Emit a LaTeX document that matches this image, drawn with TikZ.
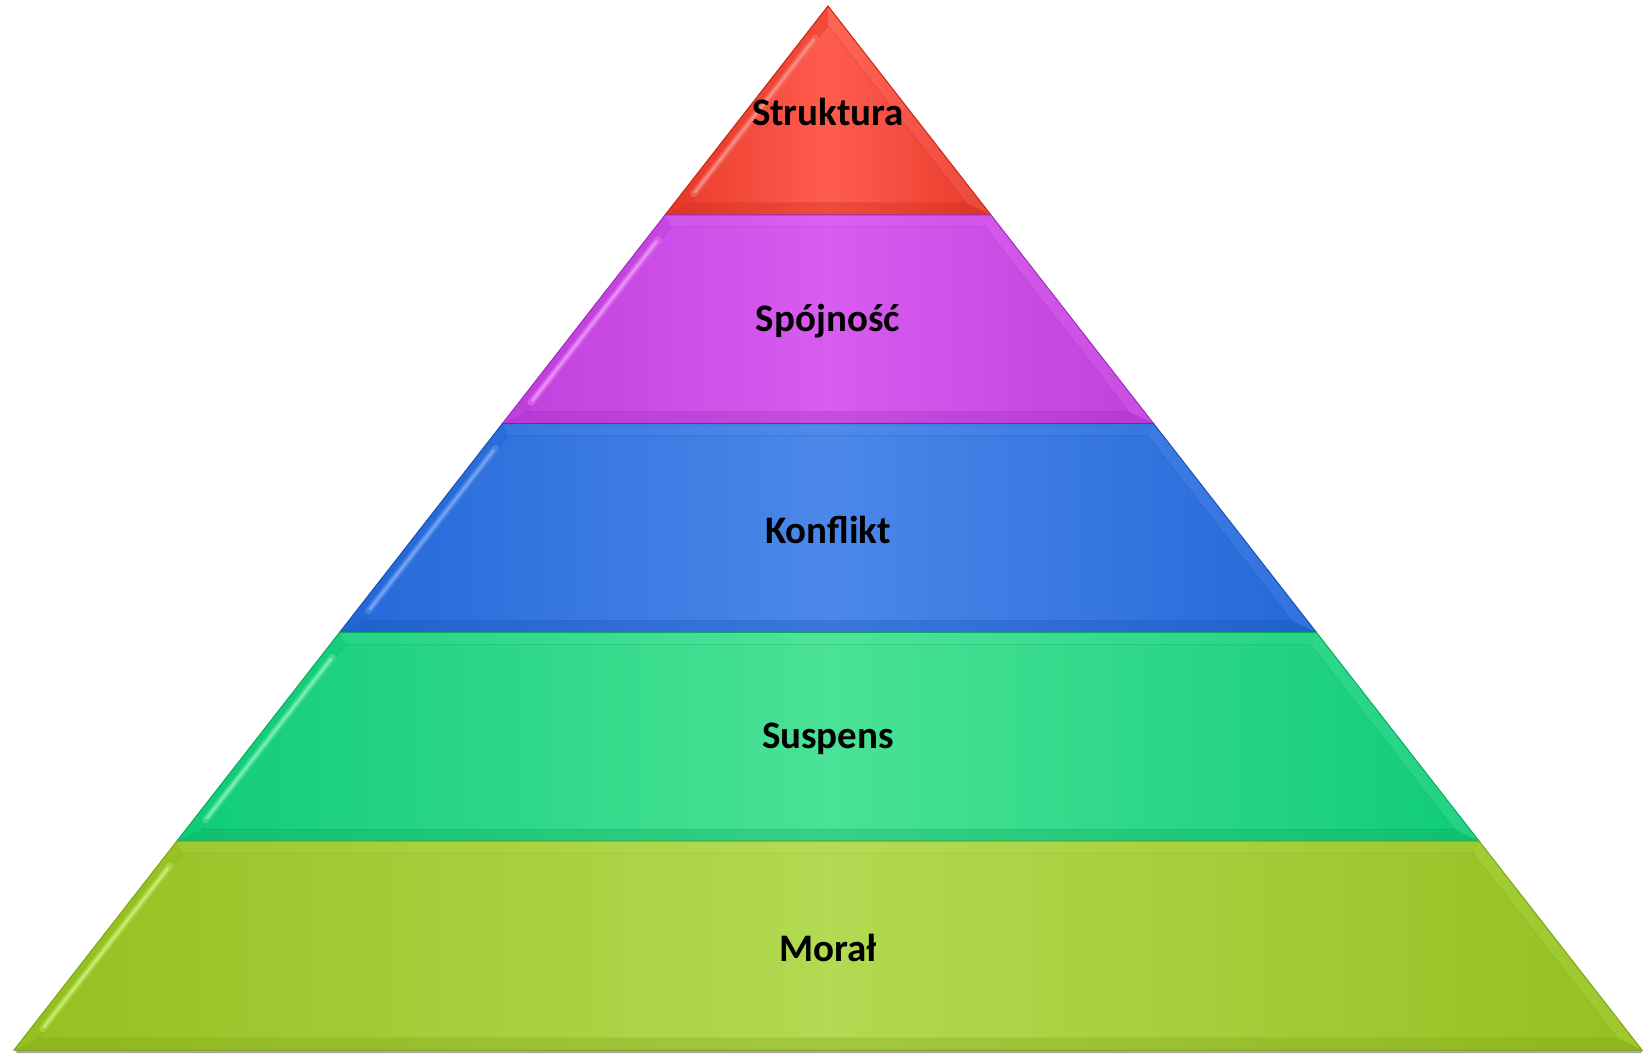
\documentclass[tikz,border=0pt]{standalone}
\usepackage{fontspec}
\setmainfont{Carlito}
\usetikzlibrary{calc}
\definecolor{redE}{HTML}{E83A2C}\definecolor{redM}{HTML}{FF5C4E}\definecolor{redD}{HTML}{C42814}\definecolor{redH}{HTML}{FF9A90}
\definecolor{purE}{HTML}{C040DC}\definecolor{purM}{HTML}{D85CF0}\definecolor{purD}{HTML}{A02CBA}\definecolor{purH}{HTML}{F49CFF}
\definecolor{bluE}{HTML}{2468D8}\definecolor{bluM}{HTML}{4C88EA}\definecolor{bluD}{HTML}{1852B8}\definecolor{bluH}{HTML}{80AEFA}
\definecolor{grnE}{HTML}{10CC78}\definecolor{grnM}{HTML}{4AE296}\definecolor{grnD}{HTML}{0AA862}\definecolor{grnH}{HTML}{8AF6C0}
\definecolor{limE}{HTML}{94C020}\definecolor{limM}{HTML}{B2DA52}\definecolor{limD}{HTML}{7EA414}\definecolor{limH}{HTML}{D2F47A}
\tikzset{layerlabel/.style={font=\fontsize{39}{47}\selectfont\bfseries, text=black, inner sep=0pt}}
\begin{document}
\begin{tikzpicture}[x=1pt,y=-1pt]
\useasboundingbox (0,0) rectangle (1647,1054);
\def\ax{828}\def\ay{6}\def\H{208.8}\def\s{0.7797}\def\d{12}\def\dx{15.2}
% shadow under base
\fill[black!35] (15,1050) -- (1643,1050) -- (1641,1053) -- (17,1053) -- cycle;
\foreach \i/\c/\t in {0/red/Struktura,1/pur/Spójność,2/blu/Konflikt,3/grn/Suspens,4/lim/Morał}{
  \pgfmathsetmacro\yt{\ay+\H*\i}
  \pgfmathsetmacro\yb{\yt+\H}
  \pgfmathsetmacro\wt{\s*\H*\i}
  \pgfmathsetmacro\wb{\s*\H*(\i+1)}
  \pgfmathsetmacro\yti{max(\yt+\d,\ay+\dx/\s)}
  \pgfmathsetmacro\wti{max(0,\s*(\yti-\ay)-\dx)}
  \pgfmathsetmacro\ybi{\yb-\d}
  \pgfmathsetmacro\wbi{\s*(\ybi-\ay)-\dx}
  \coordinate (oTL) at ({\ax-\wt},\yt);
  \coordinate (oTR) at ({\ax+\wt},\yt);
  \coordinate (oBL) at ({\ax-\wb},\yb);
  \coordinate (oBR) at ({\ax+\wb},\yb);
  \coordinate (iTL) at ({\ax-\wti},\yti);
  \coordinate (iTR) at ({\ax+\wti},\yti);
  \coordinate (iBL) at ({\ax-\wbi},\ybi);
  \coordinate (iBR) at ({\ax+\wbi},\ybi);
  \shade[left color=\c E, right color=\c E, middle color=\c M] (oTL) -- (oTR) -- (oBR) -- (oBL) -- cycle;
  % bevel facets
  \fill[\c E, opacity=.5] (oTL) -- (iTL) -- (iBL) -- (oBL) -- cycle;
  \fill[\c H, opacity=.15] (oTR) -- (iTR) -- (iBR) -- (oBR) -- cycle;
  \fill[\c D, opacity=.3] (oBL) -- (iBL) -- (iBR) -- (oBR) -- cycle;
  \fill[\c H, opacity=.08] (oTL) -- (oTR) -- (iTR) -- (iTL) -- cycle;
  \draw[\c D, opacity=.25, line width=.8pt] (iTL) -- (iTR) -- (iBR) -- (iBL) -- cycle;
  \draw[\c H, opacity=.35, line width=7pt, line cap=round] ($(iTL)!0.07!(iBL)+(-3,0)$) -- ($(iBL)!0.05!(iTL)+(-3,0)$);
  \draw[\c H, opacity=.7, line width=3pt, line cap=round] ($(iTL)!0.08!(iBL)+(-3,0)$) -- ($(iBL)!0.06!(iTL)+(-3,0)$);
  \draw[\c D, line width=1pt] (oTL) -- (oTR) -- (oBR) -- (oBL) -- cycle;
  \node[layerlabel] (L\i) at (\ax,{(\yt+\yb)/2+2}) {\t};
}
\end{tikzpicture}
\end{document}
